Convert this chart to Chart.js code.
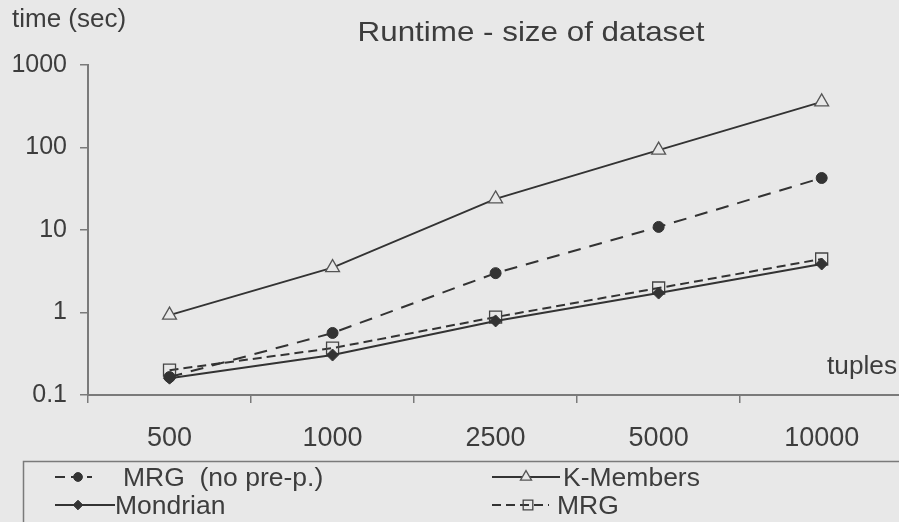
<!DOCTYPE html>
<html>
<head>
<meta charset="utf-8">
<script src="https://cdn.jsdelivr.net/npm/chart.js@4.4.0/dist/chart.umd.min.js"></script>
<style>
  html, body { margin: 0; padding: 0; background: #e8e8e8; overflow: hidden; width: 899px; height: 522px; }
  canvas { display: block; }
</style>
</head>
<body>
<canvas id="runtimeChart" width="913" height="522"></canvas>
<script>
// tuples on x, seconds on y (log)
const tupleSizes = ['500', '1000', '2500', '5000', '10000'];
const mrgNoPrep = [0.165, 0.565, 3.0, 10.9, 42.7];
const kMembers = [0.93, 3.5, 23.8, 93, 357];
const mondrian = [0.16, 0.305, 0.79, 1.72, 3.87];
const mrg = [0.2, 0.37, 0.88, 1.98, 4.45];
const yTicks = [0.1, 1, 10, 100, 1000];
const yTickLabels = ['0.1', '1', '10', '100', '1000'];

const FONT = '"Liberation Sans", Arial, sans-serif';
const BG = '#e8e8e8';
const INK = '#333333';
const TEXT = '#3d3d3d';
const AXIS = '#7a7a7a';

// stretched text, the scan is a bit wide
function wideText(ctx, txt, x, y, size, sx, align) {
  ctx.save();
  ctx.font = size + 'px ' + FONT;
  ctx.textBaseline = 'alphabetic';
  let w = ctx.measureText(txt).width * sx;
  let left = x;
  if (align === 'center') left = x - w / 2;
  ctx.translate(left, y);
  ctx.scale(sx, 1);
  ctx.textAlign = 'left';
  ctx.fillText(txt, 0, 0);
  ctx.restore();
}

const extrasPlugin = {
  id: 'extras',
  afterDraw(chart) {
    const ctx = chart.ctx;
    ctx.save();
    ctx.fillStyle = TEXT;
    wideText(ctx, 'Runtime - size of dataset', 531, 41, 28, 1.12, 'center');
    wideText(ctx, 'time (sec)', 12, 27, 26, 1.0, 'left');
    wideText(ctx, 'tuples', 827, 374, 25, 1.05, 'left');

    // legend box
    ctx.strokeStyle = AXIS;
    ctx.lineWidth = 1.5;
    ctx.strokeRect(23.5, 461.5, 900, 80);

    // slot per dataset: sample line x0..x1, marker at mx, row y, text at tx / baseline ty
    const slots = [
      { x0: 55, x1: 92, mx: 78, y: 477, tx: 123, ty: 486, dash: [10, 6] },
      { x0: 492, x1: 560, mx: 526, y: 477, tx: 563, ty: 486 },
      { x0: 55, x1: 115, mx: 78, y: 505, tx: 115, ty: 514 },
      { x0: 492, x1: 549, mx: 528, y: 505, tx: 557, ty: 514 }
    ];
    chart.data.datasets.forEach((ds, i) => {
      const s = slots[i];
      ctx.save();
      ctx.strokeStyle = ds.borderColor;
      ctx.lineWidth = ds.borderWidth;
      ctx.setLineDash(s.dash || ds.borderDash || []);
      ctx.beginPath();
      ctx.moveTo(s.x0, s.y);
      ctx.lineTo(s.x1, s.y);
      ctx.stroke();
      ctx.setLineDash([]);
      ctx.fillStyle = ds.pointBackgroundColor;
      ctx.strokeStyle = ds.pointBorderColor;
      ctx.lineWidth = ds.pointBorderWidth;
      Chart.helpers.drawPoint(ctx, {
        pointStyle: ds.pointStyle,
        rotation: 0,
        radius: ds.pointRadius * 0.8,
        borderWidth: ds.pointBorderWidth
      }, s.mx, s.y);
      ctx.fillStyle = TEXT;
      wideText(ctx, ds.label, s.tx, s.ty, 25, 1.06, 'left');
      ctx.restore();
    });
    ctx.restore();
  }
};

const ctx = document.getElementById('runtimeChart');

const runtimeChart = new Chart(ctx, {
  type: 'line',
  data: {
    labels: tupleSizes,
    datasets: [
      {
        label: 'MRG  (no pre-p.)',
        data: mrgNoPrep,
        borderColor: INK,
        borderWidth: 2,
        borderDash: [13, 9],
        pointStyle: 'circle',
        pointRadius: 5.5,
        pointBackgroundColor: INK,
        pointBorderColor: INK,
        pointBorderWidth: 1
      },
      {
        label: 'K-Members',
        data: kMembers,
        borderColor: INK,
        borderWidth: 1.8,
        pointStyle: 'triangle',
        pointRadius: 8,
        pointBackgroundColor: BG,
        pointBorderColor: '#555555',
        pointBorderWidth: 1.3
      },
      {
        label: 'Mondrian',
        data: mondrian,
        borderColor: INK,
        borderWidth: 2,
        pointStyle: 'rectRot',
        pointRadius: 6,
        pointBackgroundColor: INK,
        pointBorderColor: INK,
        pointBorderWidth: 1
      },
      {
        label: 'MRG',
        data: mrg,
        borderColor: INK,
        borderWidth: 2,
        borderDash: [9, 5],
        pointStyle: 'rect',
        pointRadius: 8.5,
        pointBackgroundColor: 'rgba(0,0,0,0)',
        pointBorderColor: '#444444',
        pointBorderWidth: 1.3
      }
    ]
  },
  options: {
    responsive: false,
    animation: false,
    devicePixelRatio: 1,
    layout: { padding: { top: 65, left: 0, right: 0, bottom: 0 } },
    elements: { line: { tension: 0 } },
    plugins: {
      legend: { display: false },
      title: { display: false },
      tooltip: { enabled: false }
    },
    scales: {
      x: {
        type: 'category',
        offset: true,
        grid: {
          offset: true,
          drawOnChartArea: false,
          tickLength: 8,
          color: AXIS,
          lineWidth: 1.5
        },
        border: { color: AXIS, width: 2 },
        ticks: {
          color: TEXT,
          font: { family: FONT, size: 27 },
          padding: 19,
          maxRotation: 0
        },
        afterFit: scale => { scale.height = 127; }
      },
      y: {
        type: 'logarithmic',
        min: 0.1,
        max: 1000,
        afterBuildTicks: scale => {
          scale.ticks = yTicks.map(v => ({ value: v }));
        },
        grid: {
          drawOnChartArea: false,
          tickLength: 8,
          color: AXIS,
          lineWidth: 1.5
        },
        border: { color: AXIS, width: 2 },
        ticks: {
          color: TEXT,
          font: { family: FONT, size: 25 },
          padding: 13,
          callback: (value, index) => yTickLabels[index]
        },
        afterFit: scale => { scale.width = 88; }
      }
    }
  },
  plugins: [extrasPlugin]
});
</script>
</body>
</html>
